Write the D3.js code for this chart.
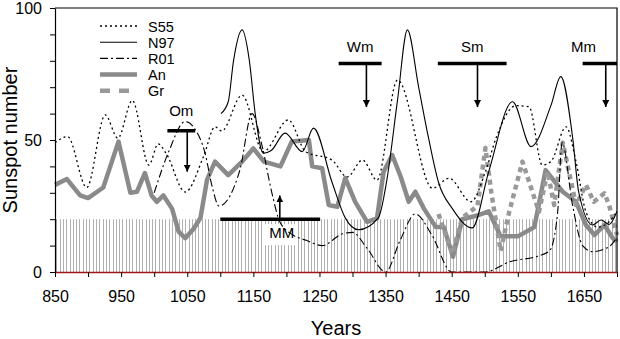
<!DOCTYPE html>
<html>
<head>
<meta charset="utf-8">
<script src="https://cdn.jsdelivr.net/npm/d3@7"></script>
<style>
  body { margin: 0; background: #fff; }
  svg text { font-family: Arial, "Liberation Sans", sans-serif; fill: #000; }
</style>
</head>
<body>
<div id="chart"></div>
<script>
// series (year, sunspot number)
const s55Years = [850, 869, 898, 926, 945, 967, 992, 1006, 1018, 1047, 1075, 1092, 1102, 1133, 1165, 1203, 1229, 1269, 1292, 1315, 1337, 1368, 1421, 1446, 1479, 1501, 1517, 1547, 1567, 1587, 1600, 1623, 1638, 1653, 1671, 1688, 1700];
const s55Values = [49, 51.3, 32, 59.5, 50.7, 65, 40.5, 48.5, 45, 30.3, 44, 55, 53.4, 67, 45.6, 57.6, 45.6, 42.4, 36, 42.4, 34.8, 72.7, 31.7, 35.5, 26.6, 38, 50.7, 63, 62.6, 40.5, 41.8, 55, 41.8, 22.8, 17, 19, 23];

const n97Years = [1101, 1112, 1120, 1133, 1144, 1153, 1165, 1177, 1198, 1224, 1241, 1269, 1289, 1309, 1339, 1352, 1368, 1383, 1400, 1415, 1430, 1451, 1481, 1506, 1542, 1570, 1600, 1615, 1633, 1642, 1663, 1676, 1688, 1700];
const n97Values = [60, 64.5, 80, 91.7, 80, 59.5, 45, 46, 52.6, 45.6, 54.5, 34, 20.5, 16, 20.5, 35, 65, 91.7, 70, 50.7, 34, 24, 16.7, 38, 64.5, 47.5, 63, 74, 50.7, 30.4, 17.8, 19.7, 18, 23];

const r01Years = [1000, 1022, 1047, 1062, 1077, 1088, 1098, 1115, 1130, 1148, 1163, 1178, 1190, 1210, 1230, 1254, 1285, 1300, 1322, 1350, 1372, 1395, 1420, 1450, 1500, 1539, 1580, 1598, 1610, 1617, 1633, 1648, 1663, 1688, 1700];
const r01Values = [30, 45.6, 57, 54, 45, 32, 25, 29, 39, 60, 48, 30, 19, 14, 12, 10, 14.5, 15, 9, 0, 12, 22, 14, 0, 0, 4, 6, 8, 22, 49, 25, 10, 7.7, 9.6, 13];

const anYears = [850, 868, 888, 900, 923, 936, 946, 964, 974, 986, 996, 1004, 1014, 1027, 1037, 1047, 1060, 1070, 1080, 1092, 1112, 1133, 1150, 1166, 1191, 1208, 1234, 1239, 1254, 1264, 1277, 1289, 1304, 1322, 1337, 1347, 1360, 1373, 1385, 1395, 1408, 1426, 1438, 1452, 1466, 1490, 1506, 1524, 1550, 1575, 1592, 1618, 1638, 1653, 1666, 1681, 1693, 1700];
const anValues = [33, 35.2, 29, 28, 32, 41.8, 49.4, 30, 30.4, 37.5, 29, 26.6, 29, 24, 15.3, 12.8, 16.5, 20.5, 35, 41.8, 36.7, 41.8, 46.8, 41.8, 40, 49.4, 50, 40, 39.3, 25.4, 24.7, 35.6, 26.6, 19, 20.3, 38, 44.3, 36, 26.6, 30.4, 24, 17, 17, 5.8, 20, 21.5, 23, 13.5, 13.5, 17, 38.6, 30.4, 26.6, 17.8, 14, 17.8, 13, 11.5];

const grYears = [1430, 1451, 1466, 1489, 1501, 1510, 1524, 1537, 1557, 1572, 1582, 1595, 1605, 1618, 1638, 1653, 1665, 1681, 1688, 1700];
const grValues = [22, 7, 20.5, 25, 47, 30, 8, 22.8, 41.8, 30.4, 22.8, 38, 25.4, 49, 25.4, 33, 26.6, 29.8, 25.4, 14];

const legendNames = ['S55', 'N97', 'R01', 'An', 'Gr'];

// grand minima: bar from x0 to x1 at level, arrow at ax pointing to ay
const minimaNames = ['Om', 'Wm', 'Sm', 'Mm', 'MM'];
const minimaStart = [1020, 1279, 1429, 1648, 1100];
const minimaEnd = [1062, 1344, 1533, 1700, 1251];
const minimaLevel = [53.5, 79, 79, 79, 20];
const minimaArrowYear = [1050, 1321, 1489, 1683, 1190];
const minimaArrowTo = [38, 62.5, 62.5, 62.5, 29];

const xTicks = d3.range(850, 1701, 50);
const xLabels = [850, 950, 1050, 1150, 1250, 1350, 1450, 1550, 1650];
const yTicks = d3.range(0, 101, 10);
const yLabels = [0, 50, 100];

const width = 620, height = 339;
const margin = { top: 8, right: 3, bottom: 67, left: 55 };

const x = d3.scaleLinear().domain([850, 1700]).range([margin.left, width - margin.right]);
const y = d3.scaleLinear().domain([0, 100]).range([height - margin.bottom, margin.top]);

const svg = d3.select('#chart').append('svg')
  .attr('width', width)
  .attr('height', height);

// hatched band 0..20
svg.append('g')
  .selectAll('line')
  .data(d3.range(852, 1700, 5))
  .enter()
  .append('line')
  .attr('x1', d => Math.round(x(d)) + 0.5).attr('x2', d => Math.round(x(d)) + 0.5)
  .attr('y1', y(0)).attr('y2', y(20))
  .attr('stroke', '#b0b0b0')
  .attr('stroke-width', 1);

// white box behind the MM label
svg.append('rect')
  .attr('x', x(1190) - 16).attr('y', y(20) + 5)
  .attr('width', 33).attr('height', 21)
  .attr('fill', '#fff');

function pairs(xs, ys) {
  return xs.map((d, i) => [d, ys[i]]);
}

const smooth = d3.line().x(d => x(d[0])).y(d => y(d[1])).curve(d3.curveMonotoneX);
const straight = d3.line().x(d => x(d[0])).y(d => y(d[1]));

const styles = {
  S55: { stroke: '#000', width: 1.3, dash: '2,3' },
  N97: { stroke: '#000', width: 1.1, dash: null },
  R01: { stroke: '#000', width: 1.1, dash: '8,3,2,3' },
  An: { stroke: '#8a8a8a', width: 4.5, dash: null },
  Gr: { stroke: '#999999', width: 4.5, dash: '5,4' }
};

const series = [
  { name: 'An', data: pairs(anYears, anValues), line: straight },
  { name: 'Gr', data: pairs(grYears, grValues), line: straight },
  { name: 'R01', data: pairs(r01Years, r01Values), line: smooth },
  { name: 'S55', data: pairs(s55Years, s55Values), line: smooth },
  { name: 'N97', data: pairs(n97Years, n97Values), line: smooth }
];

series.forEach(s => {
  const st = styles[s.name];
  svg.append('path')
    .attr('d', s.line(s.data))
    .attr('fill', 'none')
    .attr('stroke', st.stroke)
    .attr('stroke-width', st.width)
    .attr('stroke-dasharray', st.dash)
    .attr('stroke-linejoin', 'round');
});

// axes
const xAxis = svg.append('g')
  .attr('transform', `translate(0,${y(0)})`)
  .call(d3.axisBottom(x).tickValues(xTicks)
    .tickFormat(d => xLabels.includes(d) ? d : '')
    .tickSize(5).tickSizeOuter(0).tickPadding(14));
xAxis.select('.domain').attr('stroke', '#a01414').attr('stroke-width', 1.6);
xAxis.selectAll('text').attr('font-size', '16px');

const yAxis = svg.append('g')
  .attr('transform', `translate(${margin.left},0)`)
  .call(d3.axisLeft(y).tickValues(yTicks)
    .tickFormat(d => yLabels.includes(d) ? d : '')
    .tickSize(5).tickSizeOuter(0).tickPadding(8));
yAxis.selectAll('text').attr('font-size', '16px');
yAxis.select('.domain').attr('stroke-width', 1.2);

// frame top / right
svg.append('path')
  .attr('d', `M${x(850)},${y(100)}H${x(1700)}V${y(0)}`)
  .attr('fill', 'none')
  .attr('stroke', '#000')
  .attr('stroke-width', 1.2);

// axis titles
svg.append('text')
  .attr('transform', `translate(17,${y(50)}) rotate(-90)`)
  .style('text-anchor', 'middle')
  .attr('font-size', '20px')
  .text('Sunspot number');

svg.append('text')
  .attr('x', (x(850) + x(1700)) / 2)
  .attr('y', 335)
  .style('text-anchor', 'middle')
  .attr('font-size', '20px')
  .text('Years');

// legend
const legend = svg.append('g').attr('transform', 'translate(100,26)');
legendNames.forEach((name, i) => {
  const st = styles[name];
  const ly = i * 16.2;
  legend.append('line')
    .attr('x1', 0).attr('x2', 37)
    .attr('y1', ly).attr('y2', ly)
    .attr('stroke', st.stroke)
    .attr('stroke-width', st.width)
    .attr('stroke-dasharray', name === 'Gr' ? '10,9' : st.dash);
  legend.append('text')
    .attr('x', 48).attr('y', ly + 5.5)
    .attr('font-size', '14.5px')
    .text(name);
});

// arrow head marker
const defs = svg.append('defs');
defs.append('marker')
  .attr('id', 'arrow')
  .attr('viewBox', '0 0 10 10')
  .attr('refX', 10).attr('refY', 5)
  .attr('markerWidth', 7).attr('markerHeight', 7)
  .attr('markerUnits', 'userSpaceOnUse')
  .attr('orient', 'auto')
  .append('path')
  .attr('d', 'M0,0L10,5L0,10z')
  .attr('fill', '#000');

minimaNames.forEach((name, i) => {
  const g = svg.append('g');
  g.append('line')
    .attr('x1', x(minimaStart[i])).attr('x2', x(minimaEnd[i]))
    .attr('y1', y(minimaLevel[i])).attr('y2', y(minimaLevel[i]))
    .attr('stroke', '#000').attr('stroke-width', 3.5);
  g.append('line')
    .attr('x1', x(minimaArrowYear[i])).attr('x2', x(minimaArrowYear[i]))
    .attr('y1', y(minimaLevel[i])).attr('y2', y(minimaArrowTo[i]))
    .attr('stroke', '#000').attr('stroke-width', 1.6)
    .attr('marker-end', 'url(#arrow)');
  const up = minimaArrowTo[i] > minimaLevel[i];
  let lx = (x(minimaStart[i]) + x(minimaEnd[i])) / 2;
  let ly = y(minimaLevel[i]) - 11;
  if (name === 'Om') ly = y(minimaLevel[i]) - 15;
  if (name === 'Mm') lx = x(minimaStart[i]) + 1;
  if (up) { lx = x(minimaArrowYear[i]) + 2; ly = y(minimaLevel[i]) + 19; }
  g.append('text')
    .attr('x', lx).attr('y', ly)
    .style('text-anchor', 'middle')
    .attr('font-size', '15px')
    .text(name);
});
</script>
</body>
</html>
